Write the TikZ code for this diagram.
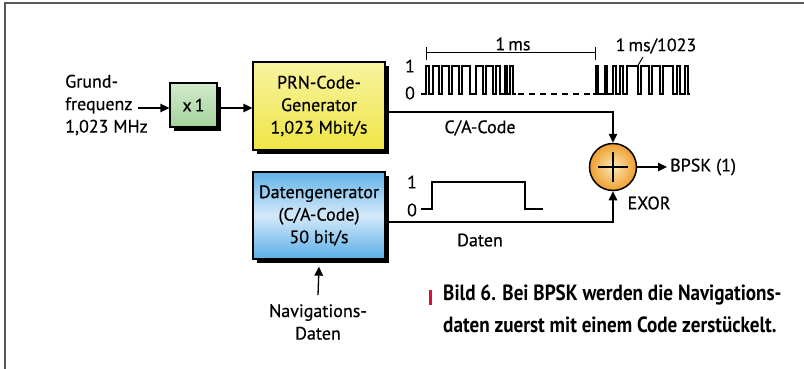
\documentclass[tikz,border=0pt]{standalone}
\usepackage{fontspec}
\setmainfont{PT Sans}[FakeBold=0.5]
\newfontfamily\capfont{PT Sans}[FakeStretch=0.87]
\usetikzlibrary{shadows,arrows.meta}
\definecolor{frame}{HTML}{5A5A5A}
\definecolor{gtop}{HTML}{D2EACB}
\definecolor{gbot}{HTML}{A3D39B}
\definecolor{ytop}{HTML}{F8F3A0}
\definecolor{ybot}{HTML}{EFE545}
\definecolor{btop}{HTML}{62B3E8}
\definecolor{bmid}{HTML}{D3E9F9}
\definecolor{bbot}{HTML}{5AAEE6}
\definecolor{oin}{HTML}{FDE8B8}
\definecolor{oout}{HTML}{EE9E2E}
\definecolor{capred}{HTML}{D2123C}
\begin{document}
\begin{tikzpicture}[x=1pt,y=-1pt,
  txt/.style={inner sep=0pt, font=\fontsize{18}{22.5}\selectfont, align=center},
  box/.style={draw=black, line width=1.3pt, inner sep=0pt, align=center,
    font=\fontsize{18}{22.5}\selectfont,
    drop shadow={shadow xshift=4pt, shadow yshift=-4pt, fill=black, opacity=1}},
  wire/.style={line width=1.3pt},
  arr/.style={line width=1.3pt, -{Triangle[length=9pt,width=8.5pt]}},
  wave/.style={line width=1.1pt, line join=miter},
]
\useasboundingbox (0,0) rectangle (804,369);
\draw[frame, line width=1.5pt] (5,369) -- (5,3) -- (804,3);

% boxes
\node[box, minimum width=47pt, minimum height=44pt, top color=gtop, bottom color=gbot] (gbox) at (193.5,105) {x\,1};
\node[box, minimum width=132pt, minimum height=88pt, top color=ytop, bottom color=ybot] (ybox) at (319,106) {PRN-Code-\\Generator\\1,023 Mbit/s};
\node[box, minimum width=132pt, minimum height=87pt, top color=btop, bottom color=bbot, middle color=bmid] (bbox) at (319,215.5) {Datengenerator\\(C/A-Code)\\50 bit/s};

\node[draw=black, line width=1.5pt, circle, minimum size=47pt, inner sep=0pt, shading=radial, inner color=oin, outer color=oout] (xor) at (613,167) {};
\draw[line width=1.5pt] ([xshift=-15pt]xor.center) -- ([xshift=15pt]xor.center);
\draw[line width=1.5pt] ([yshift=-15pt]xor.center) -- ([yshift=15pt]xor.center);

% texts
\node[txt, align=left, anchor=west] (gf) at (65,105) {Grund-\\frequenz\\1,023 MHz};
\coordinate (gfin) at (138,108);
\node[txt] (nav) at (318,322) {Navigations-\\Daten};
\node[txt, anchor=west] (bpsk) at (670,167) {BPSK (1)};
\node[txt] (exor) at (649,203) {EXOR};
\node[txt] (ca) at (480,128) {C/A-Code};
\node[txt] (daten) at (480,240) {Daten};

% connectors
\draw[arr] (gfin) -- (gfin -| gbox.west);
\draw[arr] (gfin -| gbox.east) -- (gfin -| ybox.west);
\coordinate (cacorner) at (613,112);
\draw[arr] ([yshift=-6pt]ybox.east) -- (cacorner) -- (xor.north);
\coordinate (dcorner) at (613,222);
\draw[arr] ([yshift=-6.5pt]bbox.east) -- (dcorner) -- (xor.south);
\coordinate (bpskend) at (667,167);
\draw[arr] (xor.east) -- (bpskend);
\draw[arr] ([yshift=9pt]nav.north) -- ([yshift=-7pt]bbox.south);

% code waveform
\node[txt] (c1) at (410,66) {1};
\node[txt] (c0) at (410,93) {0};
\draw[wave] (421,94) -| (426,66) -| (429,94) -| (433,66) -| (439,94) -| (442,66) -| (449,94) -| (452,66) -| (459,94) -| (462,66) -| (470,94) -| (476,66) -| (483,94) -| (486,66) -| (493,94) -| (496,66) -| (500,94) -| (505,66) -| (507,94) -| (510,66) -| (513,94) -- (516,94);
\draw[wave, dash pattern=on 6pt off 5pt] (518,94) -- (594,94);
\draw[wave] (593,94) -| (596,66) -| (598,94) -| (605,66) -| (607,94) -| (613,66) -| (616,94) -| (620,66) -| (623,94) -| (627,66) -| (638,94) -| (641,66) -| (649,94) -| (652,66) -| (660,94) -| (663,66) -| (673,94) -| (677,66) -| (680,94) -| (685,66) -| (688,94) -- (690,94);
% 1 ms bracket
\draw[line width=1pt] (426,53) -- (595,53);
\draw[line width=1pt] (426,47) -- (426,60);
\draw[line width=1pt] (595,47) -- (595,60);
\node[txt] (ms) at (513,44) {1\,ms};
\node[txt] (ms1023) at (656,46) {1\,ms/1023};
\draw[line width=1pt] (643,57) -- (637,67);

% data waveform
\node[txt] (d1) at (412,182) {1};
\node[txt] (d0) at (412,210) {0};
\draw[wave] (421,209) -| (432,182) -| (525,209) -- (543,209);

% caption
\fill[capred] (429,290) rectangle (432,305);
\node[inner sep=0pt, anchor=north west, align=left, font=\capfont\bfseries\fontsize{22}{32}\selectfont] (cap) at (443,285) {Bild 6. Bei BPSK werden die Navigations-\\daten zuerst mit einem Code zerstückelt.};
\end{tikzpicture}
\end{document}
